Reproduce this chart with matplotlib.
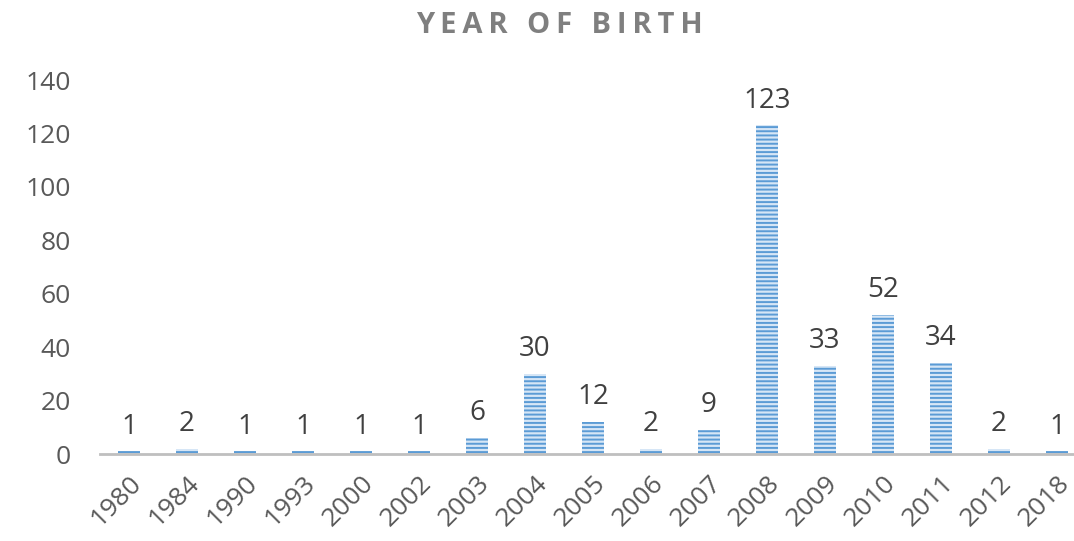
import matplotlib.pyplot as plt

# data
years = ['1980', '1984', '1990', '1993', '2000', '2002', '2003', '2004', '2005',
         '2006', '2007', '2008', '2009', '2010', '2011', '2012', '2018']
counts = [1, 2, 1, 1, 1, 1, 6, 30, 12, 2, 9, 123, 33, 52, 34, 2, 1]
y_ticks = [0, 20, 40, 60, 80, 100, 120, 140]

plt.rcParams['font.family'] = ['Open Sans', 'DejaVu Sans']
plt.rcParams['hatch.linewidth'] = 1.4

fig = plt.figure(figsize=(10.74, 5.41), dpi=100)
ax = fig.add_axes([100 / 1074, 87 / 541, 986 / 1074, 374 / 541])

x = range(len(years))
ax.bar(x, counts, width=0.38, color='#d6e6f6', edgecolor='#5b9bd5',
       hatch='----', linewidth=0)

for xi, v in zip(x, counts):
    ax.text(xi, v + 4, str(v), ha='center', va='bottom', fontsize=20, color='#404040')

ax.set_xlim(-0.5, len(years) - 0.5)
ax.set_ylim(0, 140)
ax.set_yticks(y_ticks)
ax.set_xticks(list(x))
ax.set_xticklabels(years, rotation=45, ha='right', rotation_mode='anchor')
ax.tick_params(axis='both', length=0, labelsize=19, labelcolor='#595959')
ax.tick_params(axis='y', pad=21)
ax.tick_params(axis='x', pad=12)

for s in ['top', 'right', 'left']:
    ax.spines[s].set_visible(False)
ax.spines['bottom'].set_color('#bfbfbf')
ax.spines['bottom'].set_linewidth(2)

title = '\u2009'.join('YEAR OF BIRTH')
fig.text(0.521, 0.953, title, ha='center', va='center',
         fontsize=21, fontweight='bold', color='#7f7f7f')

fig.savefig('out.png', dpi=100)
